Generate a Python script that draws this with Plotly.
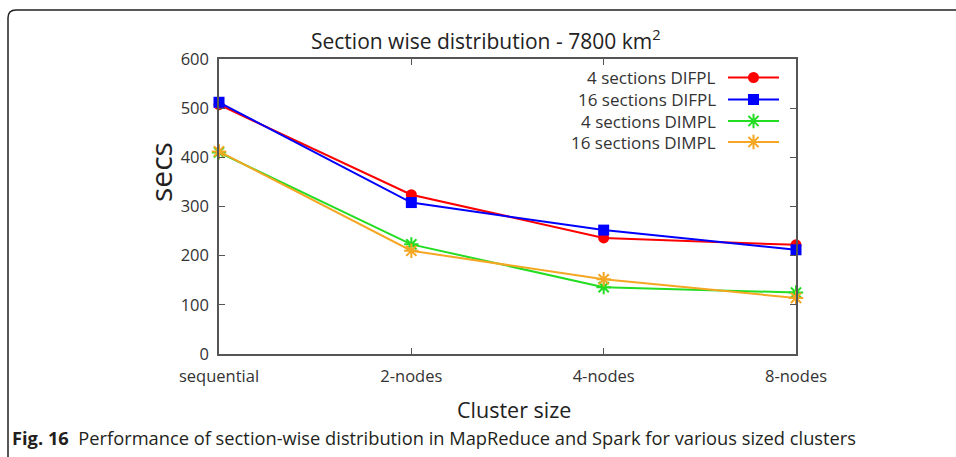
import plotly.graph_objects as go

# ---- data -------------------------------------------------------------
clusters = ["sequential", "2-nodes", "4-nodes", "8-nodes"]
series_names = ["4 sections DIFPL", "16 sections DIFPL",
                "4 sections DIMPL", "16 sections DIMPL"]
difpl_4 = [507, 324, 236, 222]
difpl_16 = [512, 308, 252, 212]
dimpl_4 = [410, 223, 136, 125]
dimpl_16 = [412, 210, 152, 114]
y_ticks = [0, 100, 200, 300, 400, 500, 600]

series_values = [difpl_4, difpl_16, dimpl_4, dimpl_16]

# ---- styling ----------------------------------------------------------
colors = ["#ff0000", "#0000ff", "#22dd22", "#f5a623"]
symbols = ["circle", "square", "asterisk-open", "asterisk-open"]
msizes = [11, 11, 12, 12]

W, H = 956, 457
L, R, T, B = 219, 796, 59, 354  # plot box in pixels

FONT = "Open Sans"
TXT = "#333333"


def px_x(x):
    return (x - L) / (R - L)


def px_y(y):
    return (B - y) / (B - T)


fig = go.Figure()


def marker_for(i):
    m = dict(symbol=symbols[i], size=msizes[i], color=colors[i])
    if symbols[i].endswith("open"):
        m["line"] = dict(color=colors[i], width=2)
    return m


for i, (name, vals) in enumerate(zip(series_names, series_values)):
    fig.add_trace(go.Scatter(
        x=clusters, y=vals, name=name, mode="lines+markers",
        line=dict(color=colors[i], width=2),
        marker=marker_for(i), showlegend=False, cliponaxis=False,
    ))

# legend key: text on the left, line sample on the right
leg_text_right = 718
leg_x0, leg_x1 = 728, 779
leg_rows = [77.5, 99.5, 121, 142]
for i, name in enumerate(series_names):
    fig.add_trace(go.Scatter(
        x=[leg_x0, (leg_x0 + leg_x1) / 2, leg_x1],
        y=[leg_rows[i]] * 3, mode="lines+markers",
        line=dict(color=colors[i], width=2),
        marker=marker_for(i),
        selectedpoints=[1], unselected=dict(marker=dict(opacity=0)),
        xaxis="x2", yaxis="y2", showlegend=False, hoverinfo="skip",
    ))
    fig.add_annotation(
        x=px_x(leg_text_right), y=px_y(leg_rows[i]), xref="paper", yref="paper",
        text=name, showarrow=False, xanchor="right", yanchor="middle",
        font=dict(family=FONT, size=17, color=TXT),
    )

axis_common = dict(
    showline=True, linecolor="#555555", linewidth=1.5, mirror="ticks",
    ticks="inside", ticklen=6, tickcolor="#555555", tickwidth=1.2,
    showgrid=False, zeroline=False,
    tickfont=dict(family=FONT, size=16.5, color=TXT),
)

fig.update_layout(
    width=W, height=H,
    margin=dict(l=L, r=W - R, t=T, b=H - B, pad=0),
    paper_bgcolor="white", plot_bgcolor="white",
    xaxis=dict(axis_common, type="category", categoryorder="array",
               categoryarray=clusters, range=[0, 3], ticklabelstandoff=6),
    yaxis=dict(axis_common, range=[0, 600], tickvals=y_ticks,
               ticklabelstandoff=5),
    xaxis2=dict(overlaying="x", range=[L, R], visible=False, fixedrange=True),
    yaxis2=dict(overlaying="y", range=[B, T], visible=False, fixedrange=True),
    showlegend=False,
)

# titles
fig.add_annotation(
    x=px_x(486), y=px_y(40), xref="paper", yref="paper",
    text="Section wise distribution - 7800 km<sup>2</sup>", showarrow=False,
    xanchor="center", yanchor="middle",
    font=dict(family=FONT, size=21, color="#222222"),
)
fig.add_annotation(
    x=px_x(160), y=px_y(172), xref="paper", yref="paper",
    text="secs", textangle=-90, showarrow=False,
    xanchor="center", yanchor="middle",
    font=dict(family=FONT, size=30, color="#222222"),
)
fig.add_annotation(
    x=px_x(514), y=px_y(409.5), xref="paper", yref="paper",
    text="Cluster size", showarrow=False,
    xanchor="center", yanchor="middle",
    font=dict(family=FONT, size=21.5, color="#222222"),
)
fig.add_annotation(
    x=px_x(10), y=px_y(437.5), xref="paper", yref="paper",
    text="<b>Fig. 16</b>  Performance of section-wise distribution in MapReduce "
         "and Spark for various sized clusters",
    showarrow=False, xanchor="left", yanchor="middle",
    font=dict(family=FONT, size=18.3, color="#231f20"),
)

# frame of the figure box (rounded top-left corner)
bx, by, rad = 8, 10, 8
path = (f"M {px_x(bx)},{px_y(H + 5)} L {px_x(bx)},{px_y(by + rad)} "
        f"Q {px_x(bx)},{px_y(by)} {px_x(bx + rad)},{px_y(by)} "
        f"L {px_x(W + 5)},{px_y(by)}")
fig.add_shape(type="path", path=path, xref="paper", yref="paper",
              line=dict(color="#222222", width=1.5))

fig.write_html("out.html")
